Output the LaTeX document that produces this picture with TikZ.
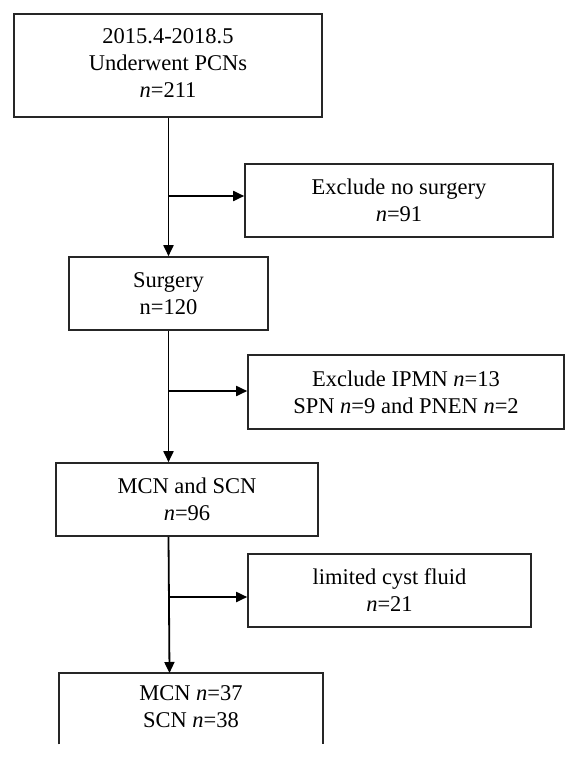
\documentclass[tikz,border=0pt]{standalone}
\usepackage{fontspec}
\setmainfont{Liberation Serif}
\usetikzlibrary{arrows.meta}
\tikzset{
  box/.style={draw=black!85, line width=1.6pt, rectangle, inner sep=0pt, align=center,
    font=\fontsize{22.5pt}{27pt}\selectfont},
  txt/.style={rectangle, inner sep=0pt, align=center, font=\fontsize{22.5pt}{27pt}\selectfont},
  arr/.style={line width=1.8pt, -{Triangle[length=11pt,width=10pt]}}
}
\begin{document}
\begin{tikzpicture}[x=1pt,y=-1pt]
\useasboundingbox[fill=white] (0,0) rectangle (579,760);
% boxes
\node[box, minimum width=308pt, minimum height=103pt] (b1) at (168,65.5)
  {\raisebox{3pt}{\begin{tabular}{@{}c@{}}2015.4-2018.5\\Underwent PCNs\\\textit{n}=211\end{tabular}}};
\node[box, minimum width=308pt, minimum height=73pt] (b2) at (399,200.5)
  {Exclude no surgery\\\textit{n}=91};
\node[box, minimum width=199pt, minimum height=73pt] (surg) at (168.5,293.5)
  {Surgery\\n=120};
\node[box, minimum width=316pt, minimum height=74pt] (ipmn) at (406,392)
  {Exclude IPMN \textit{n}=13\\SPN \textit{n}=9 and PNEN \textit{n}=2};
\node[box, minimum width=262pt, minimum height=73pt] (mcn) at (187,499.5)
  {MCN and SCN\\\textit{n}=96};
\node[box, minimum width=283pt, minimum height=73pt] (lim) at (389.5,590.5)
  {limited cyst fluid\\\textit{n}=21};
\node[txt, minimum width=264pt, minimum height=71pt, anchor=north] (fin) at (191,673)
  {\raisebox{3pt}{\begin{tabular}{@{}c@{}}MCN \textit{n}=37\\SCN \textit{n}=38\end{tabular}}};
\draw[draw=black!85, line width=1.6pt] (fin.south west) -- (fin.north west) -- (fin.north east) -- (fin.south east);
% trunk junctions
\coordinate (j1) at (168.5,196);
\coordinate (j2) at (168.5,391);
\coordinate (j3) at (169.5,597);
% main flow
\draw[arr] (b1.south -| j1) -- (surg.north -| j1);
\draw[arr] (surg.south -| j2) -- (mcn.north -| j2);
\draw[arr] (mcn.south -| j2) -- (fin.north -| j3);
% side branches
\draw[arr] (j1) -- (j1 -| b2.west);
\draw[arr] (j2) -- (j2 -| ipmn.west);
\draw[arr] (j3) -- (j3 -| lim.west);
\end{tikzpicture}
\end{document}
